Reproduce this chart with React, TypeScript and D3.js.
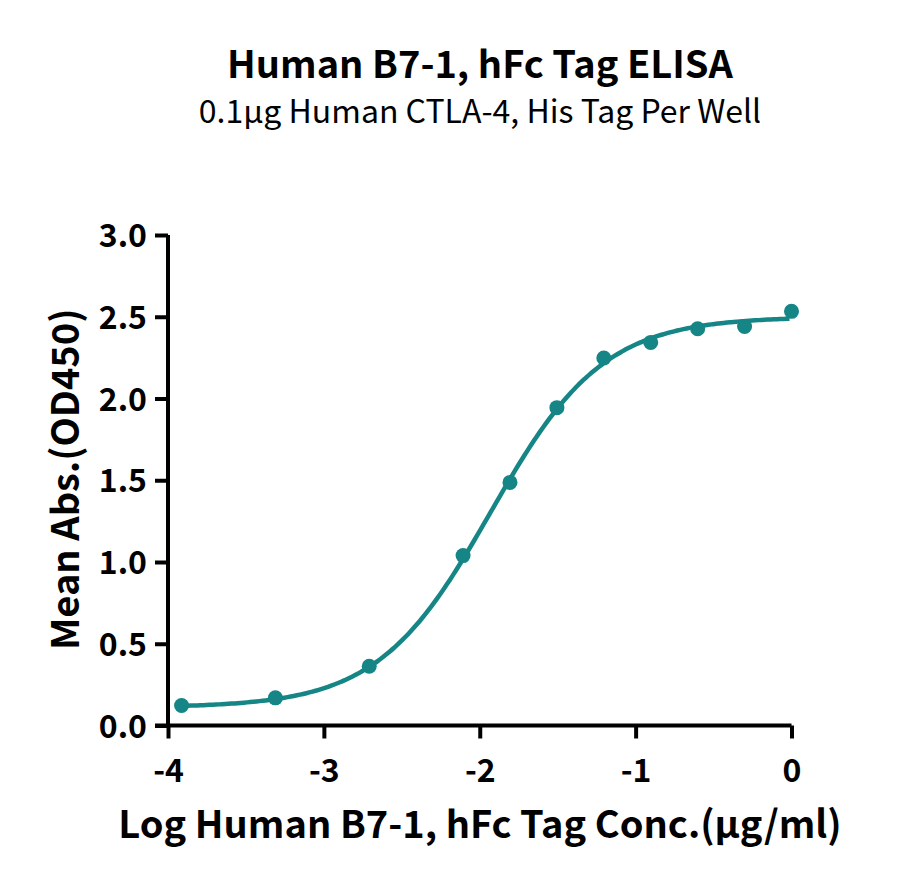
import { useEffect, useRef } from "react";
import * as d3 from "d3";

// log10 concentration (µg/ml) and mean OD450
const logConc = [-3.913, -3.311, -2.709, -2.107, -1.806, -1.505, -1.204, -0.903, -0.602, -0.301, 0];
const meanAbs = [0.122, 0.169, 0.362, 1.039, 1.487, 1.944, 2.248, 2.343, 2.427, 2.44, 2.533];

// 4PL fit parameters
const fitBottom = 0.11;
const fitTop = 2.5;
const fitLogEC50 = -1.93;
const fitHill = 1.2;

const xTicks = [-4, -3, -2, -1, 0];
const yTicks = [0, 0.5, 1, 1.5, 2, 2.5, 3];

const title = "Human B7-1, hFc Tag ELISA";
const subtitle = "0.1μg Human CTLA-4, His Tag Per Well";
const xLabel = "Log Human B7-1, hFc Tag Conc.(μg/ml)";
const yLabel = "Mean Abs.(OD450)";

const teal = "#158586";
const font = "'Noto Sans CJK SC', 'Noto Sans', sans-serif";

export default function App() {
  const svgRef = useRef<SVGSVGElement>(null);
  const width = 900;
  const height = 888;

  useEffect(() => {
    if (!svgRef.current) return;
    const svg = d3.select(svgRef.current);
    svg.selectAll("*").remove();

    const x = d3.scaleLinear().domain([-4, 0]).range([168, 791.5]);
    const y = d3.scaleLinear().domain([0, 3]).range([725.5, 235]);

    svg
      .append("text")
      .attr("x", 480)
      .attr("y", 78)
      .attr("text-anchor", "middle")
      .style("font-family", font)
      .style("font-weight", "700")
      .style("font-size", "38px")
      .text(title);

    svg
      .append("text")
      .attr("x", 480)
      .attr("y", 123)
      .attr("text-anchor", "middle")
      .style("font-family", font)
      .style("font-size", "32px")
      .text(subtitle);

    // y axis
    const yAxis = svg
      .append("g")
      .attr("transform", `translate(${x(-4)},0)`)
      .call(
        d3
          .axisLeft(y)
          .tickValues(yTicks)
          .tickSize(13)
          .tickPadding(8)
          .tickFormat(d3.format(".1f"))
      );
    yAxis.select(".domain").attr("stroke", "#000").attr("stroke-width", 4).attr("d", `M0,${y(3)}V${y(0)}`);
    yAxis.selectAll(".tick line").attr("stroke", "#000").attr("stroke-width", 4);
    yAxis
      .selectAll(".tick text")
      .attr("fill", "#000")
      .attr("dy", "0.36em")
      .style("font-family", font)
      .style("font-weight", "700")
      .style("font-size", "32px");

    // x axis
    const xAxis = svg
      .append("g")
      .attr("transform", `translate(0,${y(0)})`)
      .call(
        d3
          .axisBottom(x)
          .tickValues(xTicks)
          .tickSize(13)
          .tickFormat((d) => String(d))
      );
    xAxis.select(".domain").attr("stroke", "#000").attr("stroke-width", 4).attr("d", `M${x(-4) - 13},0H${x(0)}`);
    xAxis.selectAll(".tick line").attr("stroke", "#000").attr("stroke-width", 4);
    xAxis
      .selectAll(".tick text")
      .attr("fill", "#000")
      .attr("y", 56)
      .attr("dy", 0)
      .style("font-family", font)
      .style("font-weight", "700")
      .style("font-size", "32px");

    svg
      .append("text")
      .attr("x", 480)
      .attr("y", 838)
      .attr("text-anchor", "middle")
      .style("font-family", font)
      .style("font-weight", "700")
      .style("font-size", "38px")
      .text(xLabel);

    svg
      .append("text")
      .attr("transform", `translate(79,${(y(0) + y(3)) / 2 - 1}) rotate(-90)`)
      .attr("text-anchor", "middle")
      .style("font-family", font)
      .style("font-weight", "700")
      .style("font-size", "38px")
      .text(yLabel);

    // fitted curve
    const fit = (lx: number) =>
      fitBottom + (fitTop - fitBottom) / (1 + Math.pow(10, fitHill * (fitLogEC50 - lx)));
    const curveX = d3.range(logConc[0], 0.0001, 0.02);
    const line = d3
      .line<number>()
      .x((d) => x(d))
      .y((d) => y(fit(d)))
      .curve(d3.curveMonotoneX);

    svg
      .append("path")
      .datum(curveX)
      .attr("fill", "none")
      .attr("stroke", teal)
      .attr("stroke-width", 4.5)
      .attr("d", line);

    svg
      .append("g")
      .selectAll("circle")
      .data(logConc)
      .join("circle")
      .attr("cx", (d) => x(d))
      .attr("cy", (_, i) => y(meanAbs[i]))
      .attr("r", 7.5)
      .attr("fill", teal);
  }, []);

  return (
    <svg
      ref={svgRef}
      width={width}
      height={height}
      style={{ position: "absolute", left: 0, top: 0, background: "#fff" }}
    />
  );
}
